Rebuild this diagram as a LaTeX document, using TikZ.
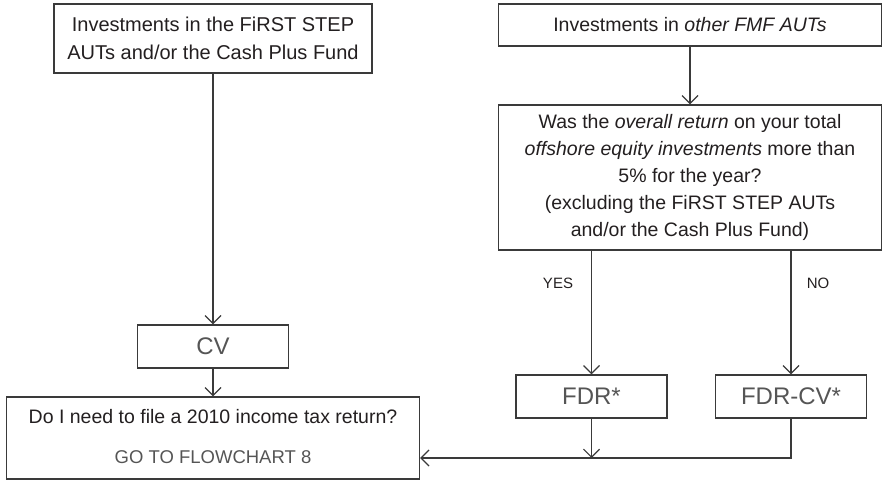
\documentclass[tikz,border=0pt]{standalone}
\usepackage{fontspec}
\setmainfont{Liberation Sans}
\usetikzlibrary{arrows.meta}
\definecolor{ink}{HTML}{231F20}
\definecolor{lightink}{HTML}{555555}
\definecolor{edge}{HTML}{3A3A3A}
\begin{document}
\begin{tikzpicture}[x=1pt,y=-1pt,
  box/.style={draw=edge, line width=1.3pt, inner sep=0pt, text=ink,
    font=\fontsize{19.5}{27}\selectfont, align=center},
  lightbox/.style={box, text=lightink, font=\fontsize{24}{28}\selectfont},
  txt/.style={inner sep=0pt, text=ink, font=\fontsize{19.5}{27}\selectfont},
  lbl/.style={inner sep=0pt, text=ink, font=\fontsize{15}{17}\selectfont},
  arr/.style={draw=edge, line width=1.2pt, -{Straight Barb[length=8pt,width=16pt,line width=1.2pt]}},
  conn/.style={draw=edge, line width=1.2pt}]
\useasboundingbox (0,0) rectangle (887,481);

\node[box, font=\fontsize{20}{28.5}\selectfont, minimum width=318pt, minimum height=69pt] (b1) at (213,38.5)
  {Investments in the FiRST STEP\\AUTs and/or the Cash Plus Fund};
\node[box, minimum width=383pt, minimum height=42pt] (b2) at (690,25)
  {Investments in \textit{other FMF AUTs}};
\node[box, minimum width=383pt, minimum height=145pt] (b3) at (690,177.5)
  {Was the \textit{overall return} on your total\\
   \textit{offshore equity investments} more than\\
   5\% for the year?\\
   (excluding the FiRST STEP AUTs\\
   and/or the Cash Plus Fund)};
\node[lightbox, minimum width=151pt, minimum height=43pt] (cv) at (213,346.5) {CV};
\node[lightbox, minimum width=151pt, minimum height=43pt] (fdr) at (591.5,396.5) {FDR*};
\node[lightbox, minimum width=151pt, minimum height=43pt] (fdrcv) at (791,396.5) {FDR-CV*};
\node[box, minimum width=413pt, minimum height=82pt] (q) at (213,438) {};
\node[txt] (qtext) at (213,417) {Do I need to file a 2010 income tax return?};
\node[txt, text=lightink, font=\fontsize{18.5}{21}\selectfont] (qgo) at (213,457) {GO TO FLOWCHART 8};

\node[lbl] (yes) at (558,283) {YES};
\node[lbl] (no) at (818,283) {NO};

\coordinate (j) at (791,458);

\draw[arr] (b1) -- (cv);
\draw[arr] (cv) -- (q);
\draw[arr] (b2) -- (b3);
\draw[arr] (fdr |- b3.south) -- (fdr.north);
\draw[arr] (fdrcv |- b3.south) -- (fdrcv.north);
\draw[arr] (fdr.south) -- (fdr.south |- j);
\draw[arr] (fdrcv.south) -- (j) -- (q.east |- j);
\end{tikzpicture}
\end{document}
